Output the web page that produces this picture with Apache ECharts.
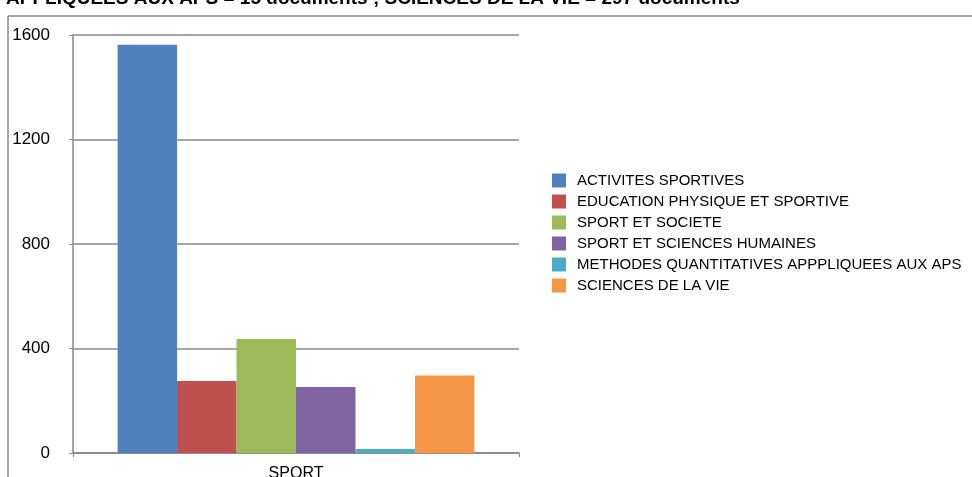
<!DOCTYPE html>
<html><head><meta charset="utf-8">
<script src="https://cdn.jsdelivr.net/npm/echarts@6/dist/echarts.min.js"></script>
<style>html,body{margin:0;padding:0;background:#fff}#c{width:972px;height:477px}</style>
</head><body><div id="c"></div>
<script>
const categories = ['SPORT'];
const seriesNames = ['ACTIVITES SPORTIVES','EDUCATION PHYSIQUE ET SPORTIVE','SPORT ET SOCIETE','SPORT ET SCIENCES HUMAINES','METHODES QUANTITATIVES APPPLIQUEES AUX APS','SCIENCES DE LA VIE'];
const activites = [1563];
const education = [276];
const societe = [436];
const humaines = [253];
const methodes = [15];
const vie = [297];
const values = [activites, education, societe, humaines, methodes, vie];
const colors = ['#4f81bd','#c0504d','#9bbb59','#8064a2','#4bacc6','#f79646'];
const titleText = 'APPLIQUEES AUX APS = 15 documents ; SCIENCES DE LA VIE = 297 documents';

const chart = echarts.init(document.getElementById('c'));
const font = 'Liberation Sans, Arial, sans-serif';
chart.setOption({
  animation: false,
  textStyle: {fontFamily: font},
  graphic: [
    {type: 'text', left: 6, top: -11, style: {text: titleText, font: 'bold 19px ' + font, fill: '#000'}},
    {type: 'line', shape: {x1: 8, y1: 16, x2: 972, y2: 16}, style: {stroke: '#888', lineWidth: 1.5}},
    {type: 'line', shape: {x1: 8, y1: 16, x2: 8, y2: 477}, style: {stroke: '#888', lineWidth: 1.5}}
  ],
  grid: {left: 73, top: 35, width: 446, height: 418, outerBoundsMode: 'none', containLabel: false},
  legend: {
    orient: 'vertical', left: 547, top: 168, itemWidth: 14, itemHeight: 14, itemGap: 6,
    icon: 'rect', textStyle: {fontSize: 15, color: '#000', fontFamily: font, padding: [0, 0, 0, 6]},
    data: seriesNames
  },
  xAxis: {
    type: 'category', data: categories,
    axisLine: {lineStyle: {color: '#888', width: 1.5}},
    axisTick: {show: true, length: 4, lineStyle: {color: '#888'}},
    axisLabel: {fontSize: 16, color: '#000', margin: 13}
  },
  yAxis: {
    type: 'value', min: 0, max: 1600, interval: 400,
    axisLine: {show: true, lineStyle: {color: '#888', width: 1.5}},
    axisTick: {show: true, length: 4, lineStyle: {color: '#888'}},
    splitLine: {lineStyle: {color: '#888', width: 1.5}},
    axisLabel: {fontSize: 17, color: '#000', margin: 23, formatter: v => String(v)}
  },
  series: seriesNames.map((n, i) => ({
    name: n, type: 'bar', data: values[i], barGap: '0%', barCategoryGap: '20%',
    itemStyle: {color: colors[i]}
  }))
});
</script></body></html>
